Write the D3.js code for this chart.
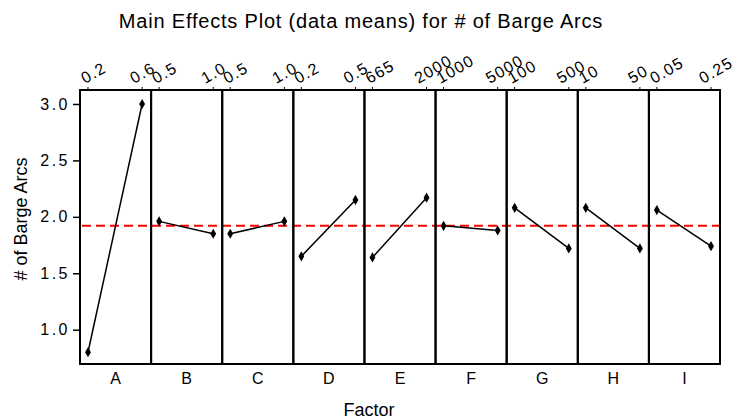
<!DOCTYPE html>
<html>
<head>
<meta charset="utf-8">
<script src="https://cdn.jsdelivr.net/npm/d3@7"></script>
<style>
  html, body { margin: 0; padding: 0; background: #fff; }
  svg { display: block; font-family: "Liberation Sans", Arial, sans-serif; }
</style>
</head>
<body>
<svg id="chart" width="748" height="420"></svg>
<script>
// Factors and their two levels
const factors = ["A", "B", "C", "D", "E", "F", "G", "H", "I"];
const lowLevels  = ["0.2", "0.5", "0.5", "0.2", "665", "1000", "100", "10", "0.05"];
const highLevels = ["0.6", "1.0", "1.0", "0.5", "2000", "5000", "500", "50", "0.25"];

// Mean response at the low and high level of each factor
const lowMeans  = [0.80, 1.96, 1.85, 1.65, 1.64, 1.92, 2.08, 2.08, 2.06];
const highMeans = [3.00, 1.85, 1.96, 2.15, 2.17, 1.88, 1.72, 1.72, 1.74];

// Grand mean of the response
const grandMean = 1.92;

// Y axis ticks
const yTicks = [1.0, 1.5, 2.0, 2.5, 3.0];

const svg = d3.select("#chart");
const plot = { left: 80, right: 720, top: 90, bottom: 364 };

const x = d3.scaleBand()
  .domain(factors)
  .range([plot.left, plot.right])
  .padding(0);
const bw = x.bandwidth();

const xLevel = d3.scalePoint()
  .domain([0, 1])
  .range([8, bw - 9]);

const y = d3.scaleLinear()
  .domain([0.696, 3.124])
  .range([plot.bottom, plot.top]);

const panels = factors.map((f, i) => ({
  factor: f,
  points: [
    { level: 0, label: lowLevels[i], value: lowMeans[i] },
    { level: 1, label: highLevels[i], value: highMeans[i] }
  ]
}));

// Title
svg.append("text")
  .attr("x", 361)
  .attr("y", 28)
  .attr("text-anchor", "middle")
  .style("font-size", "20px")
  .style("letter-spacing", "0.8px")
  .text("Main Effects Plot (data means) for # of Barge Arcs");

// Y axis
const yAxis = svg.append("g")
  .attr("transform", `translate(${plot.left},0)`)
  .call(d3.axisLeft(y).tickValues(yTicks).tickFormat(d3.format(".1f")).tickSize(7).tickPadding(3));
yAxis.select(".domain").remove();
yAxis.selectAll(".tick line").attr("stroke", "#000").attr("stroke-width", 1.5);
yAxis.selectAll(".tick text")
  .attr("fill", "#000")
  .style("font-family", "Liberation Sans, Arial, sans-serif")
  .style("font-size", "16px")
  .style("letter-spacing", "2.5px");

svg.append("text")
  .attr("transform", "translate(27,219) rotate(-90)")
  .attr("text-anchor", "middle")
  .style("font-size", "18px")
  .text("# of  Barge Arcs");

// Grand mean reference line
svg.append("line")
  .attr("x1", plot.left + 2)
  .attr("x2", plot.right)
  .attr("y1", y(grandMean))
  .attr("y2", y(grandMean))
  .attr("stroke", "#ff0000")
  .attr("stroke-width", 2)
  .attr("stroke-dasharray", "9,5");

const line = d3.line()
  .x(d => xLevel(d.level))
  .y(d => y(d.value));

const diamond = d3.symbol().type(d3.symbolDiamond).size(30);

const panel = svg.selectAll("g.panel")
  .data(panels)
  .join("g")
  .attr("class", "panel")
  .attr("transform", d => `translate(${x(d.factor)},0)`);

// Small level ticks above each panel
panel.selectAll("line.lvtick")
  .data(d => d.points)
  .join("line")
  .attr("class", "lvtick")
  .attr("x1", d => xLevel(d.level))
  .attr("x2", d => xLevel(d.level))
  .attr("y1", plot.top)
  .attr("y2", plot.top - 3)
  .attr("stroke", "#000")
  .attr("stroke-width", 1);

// Level labels, rotated
panel.selectAll("text.lvlabel")
  .data(d => d.points)
  .join("text")
  .attr("class", "lvlabel")
  .attr("transform", d => `translate(${xLevel(d.level) + (d.level === 0 ? -3 : -8)},84) rotate(-30)`)
  .style("font-size", "16px")
  .style("letter-spacing", "1.2px")
  .text(d => d.label);

// Effect lines and markers
panel.append("path")
  .attr("d", d => line(d.points))
  .attr("fill", "none")
  .attr("stroke", "#000")
  .attr("stroke-width", 1.5);

panel.selectAll("path.marker")
  .data(d => d.points)
  .join("path")
  .attr("class", "marker")
  .attr("d", diamond)
  .attr("transform", d => `translate(${xLevel(d.level)},${y(d.value)})`)
  .attr("fill", "#000");

// Panel frames
panel.append("rect")
  .attr("x", 0)
  .attr("y", plot.top)
  .attr("width", bw)
  .attr("height", plot.bottom - plot.top)
  .attr("fill", "none")
  .attr("stroke", "#000")
  .attr("stroke-width", 2);

// Factor names
panel.append("text")
  .attr("x", bw / 2)
  .attr("y", 384)
  .attr("text-anchor", "middle")
  .style("font-size", "16px")
  .text(d => d.factor);

svg.append("text")
  .attr("x", 369)
  .attr("y", 416)
  .attr("text-anchor", "middle")
  .style("font-size", "18px")
  .text("Factor");
</script>
</body>
</html>
